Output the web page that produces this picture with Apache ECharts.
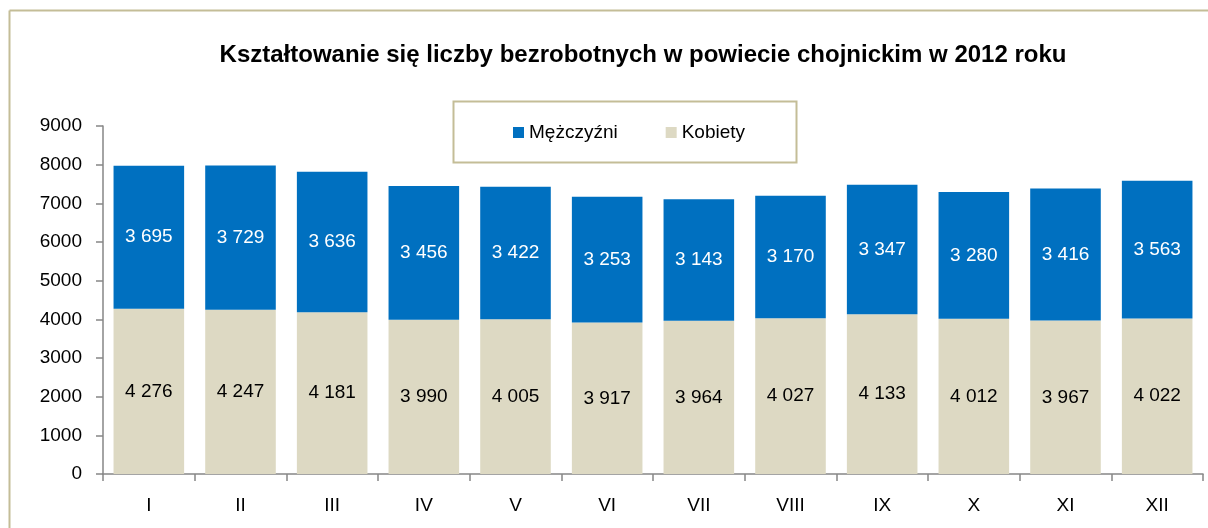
<!DOCTYPE html>
<html><head><meta charset="utf-8">
<script src="https://cdn.jsdelivr.net/npm/echarts@6/dist/echarts.min.js"></script>
<style>html,body{margin:0;padding:0;background:#fff}#c{width:1208px;height:528px}</style>
</head><body><div id="c"></div>
<script>
const titleText = 'Kształtowanie się liczby bezrobotnych w powiecie chojnickim w 2012 roku';
const months = ['I','II','III','IV','V','VI','VII','VIII','IX','X','XI','XII'];
const kobiety = [4276,4247,4181,3990,4005,3917,3964,4027,4133,4012,3967,4022];
const mezczyzni = [3695,3729,3636,3456,3422,3253,3143,3170,3347,3280,3416,3563];
const yTicks = [0,1000,2000,3000,4000,5000,6000,7000,8000,9000];

const FONT = 'Liberation Sans';
const fmt = v => { const s = String(v); return s.length > 3 ? s.slice(0, s.length-3) + ' ' + s.slice(-3) : s; };
const chart = echarts.init(document.getElementById('c'), null, {renderer:'canvas'});
chart.setOption({
  animation:false,
  backgroundColor:'#fff',
  textStyle:{fontFamily:FONT},
  title:{text:titleText,left:638,textAlign:'center',top:38,
    textStyle:{fontFamily:FONT,fontWeight:'bold',fontSize:24,color:'#000'}},
  graphic:[
    {type:'line',shape:{x1:9.5,y1:10.5,x2:1208,y2:10.5},style:{stroke:'#C4BD97',lineWidth:2}},
    {type:'line',shape:{x1:9.5,y1:10.5,x2:9.5,y2:528},style:{stroke:'#C4BD97',lineWidth:2}},
    {type:'rect',shape:{x:453.5,y:101.5,width:343,height:61},style:{fill:'#fff',stroke:'#C4BD97',lineWidth:2},z:-1}
  ],
  legend:{left:508,top:118,itemWidth:11,itemHeight:11,itemGap:48,icon:'rect',
    data:['Mężczyźni','Kobiety'],
    textStyle:{fontFamily:FONT,fontSize:19,color:'#000'}},
  grid:{left:103,right:5,top:126,bottom:54},
  xAxis:{type:'category',data:months,
    axisLine:{lineStyle:{color:'#868686',width:1.5}},
    axisTick:{show:true,length:7,alignWithLabel:false,lineStyle:{color:'#868686',width:1.5}},
    axisLabel:{fontFamily:FONT,fontSize:19,color:'#000',margin:22}},
  yAxis:{type:'value',min:yTicks[0],max:yTicks[yTicks.length-1],interval:1000,
    axisLine:{show:true,lineStyle:{color:'#868686',width:1.5}},
    axisTick:{show:true,length:7,lineStyle:{color:'#868686',width:1.5}},
    splitLine:{show:false},
    axisLabel:{fontFamily:FONT,fontSize:19,color:'#000',margin:21,formatter:v=>String(v)}},
  series:[
    {name:'Kobiety',type:'bar',stack:'a',data:kobiety,barCategoryGap:'23%',
      itemStyle:{color:'#DDD9C3'},
      label:{show:true,position:'inside',formatter:p=>fmt(p.value),fontFamily:FONT,fontSize:19,color:'#000'}},
    {name:'Mężczyźni',type:'bar',stack:'a',data:mezczyzni,barCategoryGap:'23%',
      itemStyle:{color:'#0070C0'},
      label:{show:true,position:'inside',formatter:p=>fmt(p.value),fontFamily:FONT,fontSize:19,color:'#fff'}}
  ]
});
</script></body></html>
